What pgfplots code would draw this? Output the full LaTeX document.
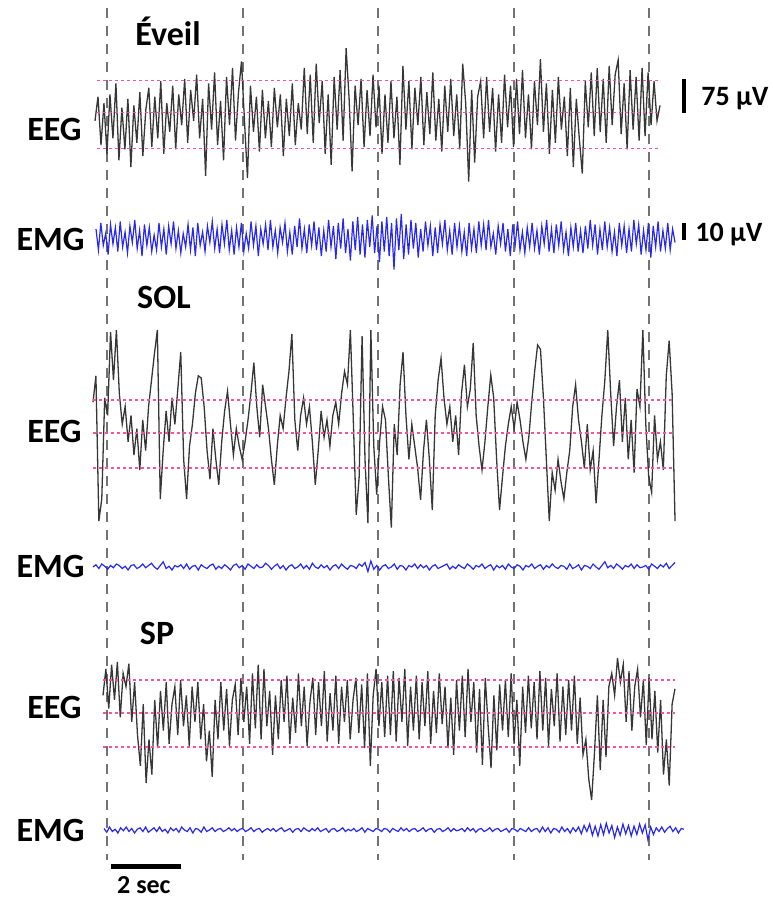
\documentclass[border=0pt]{standalone}
\usepackage{pgfplots}
\pgfplotsset{compat=1.18}
\usepackage{pgfplotstable}
\usepackage{fontspec}
\setmainfont{Carlito}

\definecolor{eegcol}{RGB}{55,55,55}
\definecolor{emgcol}{RGB}{40,40,240}
\definecolor{pinkdot}{RGB}{245,85,150}
\definecolor{dashgray}{RGB}{115,115,115}

% Eveil (awake) -- EEG in microvolts, EMG in microvolts
\pgfplotstableread[row sep=\\]{v\\
-20\\ 35\\ -75\\ 20\\ -95\\ 40\\ -60\\ 65\\ -110\\ 10\\
-85\\ 30\\ -125\\ 15\\ -70\\ 45\\ -100\\ 5\\ 55\\ -80\\
35\\ -60\\ 70\\ -95\\ 20\\ -45\\ 60\\ -85\\ 40\\ -30\\
75\\ -70\\ 50\\ -20\\ 85\\ -60\\ 30\\ -145\\ 65\\ -40\\
90\\ -75\\ 25\\ -110\\ 80\\ -30\\ 100\\ -65\\ 45\\ 115\\
-20\\ -150\\ 60\\ -45\\ 35\\ -90\\ 50\\ -60\\ 25\\ -80\\
55\\ -35\\ 40\\ -100\\ 30\\ -55\\ 65\\ -75\\ 20\\ -40\\
100\\ -50\\ 85\\ -70\\ 110\\ -25\\ 70\\ -95\\ 40\\ -120\\
80\\ -40\\ 95\\ -65\\ 145\\ 30\\ -135\\ 60\\ -30\\ 75\\
-80\\ 50\\ -55\\ 85\\ -35\\ 60\\ -95\\ 40\\ -70\\ 70\\
-60\\ 35\\ -120\\ 105\\ -40\\ 70\\ -85\\ 55\\ -30\\ 80\\
-75\\ 45\\ -50\\ 90\\ -65\\ 30\\ -90\\ 60\\ -45\\ 75\\
-55\\ 40\\ -85\\ 110\\ 20\\ -158\\ 50\\ -115\\ 35\\ 70\\
-60\\ 80\\ -45\\ 55\\ -90\\ 40\\ -70\\ 85\\ -35\\ 60\\
-80\\ 75\\ -50\\ 95\\ -60\\ 40\\ -85\\ 70\\ -30\\ 120\\
-45\\ 65\\ -95\\ 50\\ -70\\ 80\\ -40\\ 35\\ -100\\ 55\\
-125\\ 30\\ -60\\ -140\\ 70\\ -35\\ 90\\ -55\\ 100\\ -45\\
75\\ -70\\ 105\\ -30\\ 85\\ 118\\ -50\\ 65\\ -85\\ 95\\
-40\\ 80\\ -65\\ 100\\ -55\\ 90\\ -30\\ 70\\ -20\\ 15\\
}\eveileeg

\pgfplotstableread[row sep=\\]{v\\
6\\ -8\\ 10\\ -5\\ 3\\ -11\\ 9\\ -4\\ 7\\ -9\\
11\\ -6\\ 4\\ -10\\ 8\\ -3\\ 12\\ -7\\ 5\\ -12\\
9\\ -5\\ 7\\ -9\\ 2\\ -8\\ 10\\ -6\\ 6\\ -11\\
8\\ -4\\ 11\\ -7\\ 5\\ -10\\ 3\\ -6\\ 9\\ -8\\
7\\ -12\\ 10\\ -5\\ 4\\ -9\\ 8\\ -3\\ 11\\ -7\\
6\\ -10\\ 9\\ -4\\ 12\\ -8\\ 5\\ -11\\ 7\\ -6\\
10\\ -9\\ 3\\ -7\\ 11\\ -5\\ 8\\ -12\\ 6\\ -4\\
9\\ -8\\ 12\\ -6\\ 5\\ -10\\ 7\\ -3\\ 10\\ -9\\
4\\ -11\\ 8\\ -6\\ 13\\ -7\\ 6\\ -10\\ 9\\ -5\\
11\\ -8\\ 7\\ -12\\ 5\\ -9\\ 12\\ -6\\ 8\\ -14\\
10\\ -7\\ 13\\ -10\\ 6\\ -15\\ 11\\ -8\\ 14\\ -11\\
9\\ -13\\ 12\\ -6\\ 15\\ -10\\ 8\\ -16\\ 11\\ -9\\
14\\ -12\\ 10\\ -21\\ 13\\ -8\\ 16\\ -14\\ 9\\ -11\\
12\\ -7\\ 10\\ -13\\ 6\\ -9\\ 11\\ -5\\ 8\\ -12\\
7\\ -10\\ 9\\ -4\\ 12\\ -8\\ 5\\ -11\\ 10\\ -6\\
8\\ -9\\ 4\\ -12\\ 10\\ -7\\ 6\\ -10\\ 11\\ -5\\
9\\ -8\\ 12\\ -6\\ 3\\ -11\\ 8\\ -4\\ 10\\ -9\\
6\\ -12\\ 9\\ -5\\ 11\\ -8\\ 4\\ -10\\ 7\\ -6\\
10\\ -7\\ 5\\ -11\\ 8\\ -4\\ 12\\ -9\\ 6\\ -10\\
9\\ -5\\ 11\\ -8\\ 4\\ -12\\ 7\\ -6\\ 10\\ -9\\
5\\ -10\\ 8\\ -7\\ 12\\ -5\\ 9\\ -11\\ 6\\ -8\\
11\\ -6\\ 7\\ -9\\ 4\\ -12\\ 10\\ -5\\ 8\\ -10\\
6\\ -9\\ 12\\ -4\\ 9\\ -11\\ 5\\ -8\\ 10\\ -13\\
8\\ -6\\ 11\\ -9\\ 5\\ -7\\ 10\\ -8\\ 6\\ -3\\
}\eveilemg

% SOL (slow-wave sleep)
\pgfplotstableread[row sep=\\]{v\\
70\\ 130\\ -200\\ -150\\ 80\\ 40\\ 230\\ 120\\ 234\\ 90\\
20\\ 60\\ -20\\ 40\\ -50\\ 10\\ -84\\ 30\\ -40\\ 60\\
120\\ 180\\ 234\\ -150\\ -40\\ 50\\ -20\\ 80\\ 20\\ 100\\
184\\ -60\\ -150\\ -30\\ 20\\ 90\\ 130\\ 125\\ 60\\ -40\\
-105\\ 10\\ -60\\ -118\\ -20\\ 50\\ 95\\ 20\\ -50\\ 10\\
-30\\ -60\\ -20\\ 30\\ 90\\ 160\\ 60\\ -10\\ 110\\ 60\\
10\\ -60\\ -118\\ -30\\ 40\\ 10\\ 80\\ 140\\ 225\\ 30\\
-40\\ 40\\ 80\\ 20\\ 60\\ -20\\ -118\\ -40\\ 50\\ -10\\
30\\ -30\\ 40\\ 70\\ 20\\ 90\\ 140\\ 110\\ 234\\ 30\\
-186\\ -100\\ 220\\ -60\\ -205\\ 234\\ -30\\ -140\\ -20\\ 60\\
30\\ -100\\ -215\\ 20\\ -50\\ 110\\ 184\\ 40\\ -60\\ 20\\
-30\\ -80\\ -152\\ -40\\ 30\\ -60\\ -175\\ 40\\ 120\\ 170\\
80\\ 20\\ 60\\ -20\\ 40\\ -50\\ 90\\ 155\\ 60\\ 100\\
205\\ 40\\ -30\\ -84\\ -20\\ 60\\ 132\\ 80\\ -60\\ -175\\
-100\\ -30\\ 20\\ 60\\ 10\\ 70\\ 30\\ -20\\ -60\\ -10\\
70\\ 140\\ 200\\ 190\\ 80\\ -60\\ -200\\ -90\\ -130\\ -60\\
-110\\ -150\\ -90\\ -40\\ 60\\ 110\\ 30\\ -20\\ -80\\ 20\\
-84\\ -40\\ -160\\ -60\\ 40\\ 120\\ 234\\ 90\\ -30\\ 60\\
120\\ -20\\ 80\\ -60\\ 30\\ -90\\ 100\\ 60\\ 234\\ 20\\
-100\\ -135\\ 40\\ -60\\ -20\\ -84\\ 130\\ 210\\ 90\\ -200\\
}\soleeg

\pgfplotstableread[row sep=\\]{v\\
0\\ 1.5\\ -1\\ 2\\ 0.5\\ -1.5\\ 1\\ -0.5\\ 2\\ 1\\
-1\\ 0.5\\ -2\\ 1\\ 1.5\\ -1\\ 0\\ 2\\ -0.5\\ 1\\
2.5\\ 0\\ -1.5\\ 1\\ 3.5\\ -1\\ 0.5\\ -2\\ 1\\ 0\\
1.5\\ -1\\ 2\\ -1.5\\ 0.5\\ 1\\ -2\\ 1.5\\ 0\\ -1\\
1\\ 2\\ -1.5\\ 0.5\\ -1\\ 1.5\\ 0\\ -2\\ 1\\ 2\\
-0.5\\ 1\\ -1.5\\ 2\\ 0.5\\ -1\\ 1.5\\ -0.5\\ 0\\ 2.5\\
1\\ -1.5\\ 0.5\\ 2\\ -1\\ 1\\ -2\\ 0.5\\ 1.5\\ -1\\
0\\ 2\\ -1\\ 1\\ -1.5\\ 2.5\\ 0\\ -1\\ 1.5\\ -0.5\\
1\\ -2\\ 0.5\\ 1.5\\ -1\\ 2\\ 0\\ -1.5\\ 1\\ 0.5\\
-1\\ 2\\ 0.5\\ 3\\ -3\\ 4\\ -1.5\\ 1\\ -2\\ 0.5\\
1.5\\ -1\\ 0\\ 2\\ -1.5\\ 1\\ 0.5\\ -2\\ 1\\ 0\\
2\\ -1\\ 1.5\\ -0.5\\ 1\\ -2\\ 0.5\\ 1.5\\ -1\\ 0\\
1\\ 2\\ -1.5\\ 0.5\\ -1\\ 1.5\\ 0\\ -1\\ 2\\ 0.5\\
-1.5\\ 1\\ 0\\ 2\\ -1\\ 0.5\\ 1.5\\ -2\\ 1\\ -0.5\\
1\\ -1.5\\ 2\\ 0\\ -1\\ 1.5\\ 0.5\\ -2\\ 1\\ 0\\
2\\ -1\\ 0.5\\ 1.5\\ -1.5\\ 1\\ -0.5\\ 2\\ 0\\ -1\\
1\\ 0.5\\ -1.5\\ 2\\ -1\\ 0\\ 1.5\\ -2\\ 1\\ 0.5\\
-1\\ 2\\ 0\\ -1.5\\ 1\\ 3.5\\ -0.5\\ 1\\ -1\\ 2\\
0.5\\ -1.5\\ 1\\ 0\\ 2\\ -1\\ 1.5\\ -0.5\\ 0\\ 1\\
-1.5\\ 2\\ 0.5\\ -1\\ 1.5\\ 0\\ 2.5\\ -1\\ 1\\ 3\\
}\solemg

% SP (paradoxical sleep)
\pgfplotstableread[row sep=\\]{v\\
40\\ 100\\ 10\\ 110\\ 30\\ 116\\ -10\\ 90\\ 60\\ 112\\
-20\\ 70\\ -50\\ -120\\ 20\\ -159\\ -60\\ -140\\ 30\\ -80\\
50\\ -40\\ 70\\ -70\\ 20\\ 60\\ -50\\ 75\\ -30\\ 40\\
-75\\ 60\\ -20\\ 70\\ -60\\ 20\\ -110\\ -40\\ -145\\ 30\\
-60\\ 70\\ -40\\ 55\\ -75\\ 30\\ 65\\ -50\\ 80\\ -20\\
60\\ -70\\ 90\\ -35\\ 110\\ -60\\ 100\\ -30\\ 50\\ -95\\
40\\ -60\\ 75\\ -20\\ 85\\ -70\\ 35\\ -45\\ 90\\ -30\\
60\\ -75\\ 25\\ 80\\ -50\\ 70\\ -30\\ 95\\ -65\\ 45\\
-40\\ 85\\ -70\\ 60\\ -20\\ 75\\ -60\\ 30\\ 80\\ -45\\
65\\ -80\\ 90\\ -120\\ 40\\ 100\\ -30\\ 70\\ -55\\ 85\\
-50\\ 95\\ -65\\ 80\\ -20\\ 100\\ -75\\ 60\\ -40\\ 85\\
-60\\ 70\\ -30\\ 95\\ -70\\ 50\\ -45\\ 90\\ -25\\ 60\\
-80\\ 35\\ -95\\ 75\\ -40\\ 85\\ -55\\ 100\\ -20\\ 70\\
-90\\ 55\\ -118\\ 80\\ -30\\ -125\\ 40\\ -85\\ 65\\ -40\\
75\\ -55\\ 90\\ -70\\ 30\\ -120\\ 60\\ -45\\ 85\\ -35\\
70\\ -60\\ 95\\ -40\\ 80\\ -75\\ 55\\ -30\\ 90\\ -65\\
60\\ -50\\ 75\\ -40\\ 85\\ -70\\ 35\\ -95\\ -60\\ -150\\
-198\\ -90\\ 40\\ -130\\ 30\\ -100\\ 60\\ 90\\ 40\\ 125\\
70\\ 110\\ -20\\ 95\\ -40\\ 60\\ 100\\ -10\\ 75\\ -73\\
80\\ -60\\ 50\\ -90\\ 30\\ -140\\ -60\\ -165\\ 20\\ 55\\
}\speeg

\pgfplotstableread[row sep=\\]{v\\
1\\ -1.5\\ 2\\ -1\\ 0.5\\ -2\\ 1.5\\ -0.5\\ 2\\ -1\\
1\\ -2\\ 0.5\\ 1.5\\ -1\\ 2\\ -1.5\\ 0\\ 1.5\\ -1\\
2\\ -1\\ 0.5\\ -2\\ 1.5\\ -0.5\\ 1\\ -1.5\\ 2\\ 0\\
-1\\ 1.5\\ -2\\ 1\\ 0.5\\ -1.5\\ 2\\ -1\\ 0\\ 1.5\\
-1\\ 0.5\\ 1\\ -1\\ 0\\ 1.5\\ -0.5\\ 1\\ -1\\ 0.5\\
1\\ -1\\ 0\\ 1.5\\ -1\\ 0.5\\ 1\\ -1.5\\ 0\\ 1\\
-0.5\\ 1\\ -1\\ 0.5\\ 1.5\\ -1\\ 0\\ 1\\ -1.5\\ 0.5\\
1\\ -1\\ 1.5\\ 0\\ -1\\ 1\\ -0.5\\ 1.5\\ -1\\ 0\\
1\\ -1.5\\ 0.5\\ 1\\ -1\\ 0\\ 1.5\\ -1\\ 0.5\\ -0.5\\
1\\ -1\\ 0\\ 1.5\\ -1.5\\ 1\\ 0\\ -1\\ 1\\ 0.5\\
-1\\ 1\\ 0.5\\ -1.5\\ 1\\ 0\\ -1\\ 1.5\\ -0.5\\ 1\\
-1\\ 0.5\\ 1\\ -1\\ 0\\ 1.5\\ -1\\ 0.5\\ 1\\ -1.5\\
0.5\\ 1\\ -1\\ 0\\ 1.5\\ -1\\ 1\\ -0.5\\ 0\\ 1\\
-1\\ 1.5\\ -0.5\\ 1\\ -1.5\\ 0.5\\ 1\\ -1\\ 0\\ 1.5\\
-1\\ 0.5\\ 1\\ -1\\ 0\\ 1\\ -1.5\\ 1\\ 0.5\\ -1\\
1\\ 0\\ -1\\ 1.5\\ -1\\ 0.5\\ 1\\ -1.5\\ 2\\ -1\\
1.5\\ -2\\ 1\\ 0.5\\ -1.5\\ 2\\ -1\\ 1\\ -2\\ 1.5\\
-1\\ 2\\ -2.5\\ 3\\ -1\\ 4\\ -3.5\\ 2.5\\ -4\\ 3.5\\
-3\\ 4.5\\ -2\\ 3\\ -5\\ 2\\ -3.5\\ 4\\ -2.5\\ 3\\
-4\\ 2.5\\ -3\\ 4\\ -2\\ 3.5\\ -6.5\\ 2\\ -3\\ 1.5\\
-1\\ 2\\ -1.5\\ 1\\ 2.5\\ -1\\ 1.5\\ -2\\ 1\\ 0.5\\
}\spemg

\begin{document}
\begin{tikzpicture}
\begin{axis}[
    scale only axis,
    width=386pt, height=449pt,
    xmin=-3.1587, xmax=19.631,
    ymin=0, ymax=898, y dir=reverse,
    hide axis, clip=false,
]
\path (rel axis cs:0,0) rectangle (rel axis cs:1,1);

% 4-second markers
\foreach \t in {0,4,8,12,16} {
  \edef\tmp{\noexpand\addplot[dashgray, line width=1pt, dash pattern=on 5pt off 4pt]
    coordinates {(\t,8) (\t,860)};}
  \tmp
}

% Eveil
\addplot[eegcol, line width=0.65pt] table[x index=0, y index=0, x expr={-0.3542+\coordindex*0.08825}, y expr={112-0.44*\thisrow{v}}] {\eveileeg};
\addplot[emgcol, line width=0.6pt] table[x index=0, y index=0, x expr={-0.3247+\coordindex*0.07152}, y expr={238-1.5*\thisrow{v}}] {\eveilemg};
% SOL
\addplot[eegcol, line width=0.65pt] table[x index=0, y index=0, x expr={-0.4133+\coordindex*0.08634}, y expr={433-0.44*\thisrow{v}}] {\soleeg};
\addplot[emgcol, line width=0.6pt] table[x index=0, y index=0, x expr={-0.4133+\coordindex*0.08634}, y expr={567-1.5*\thisrow{v}}] {\solemg};
% SP
\addplot[eegcol, line width=0.65pt] table[x index=0, y index=0, x expr={-0.1181+\coordindex*0.08485}, y expr={713-0.44*\thisrow{v}}] {\speeg};
\addplot[emgcol, line width=0.6pt] table[x index=0, y index=0, x expr={-0.0886+\coordindex*0.08192}, y expr={830-1.5*\thisrow{v}}] {\spemg};

% +/- 75 uV reference lines
\foreach \y in {80.5,112.5,148.5} {
  \edef\tmp{\noexpand\addplot[pinkdot, line width=0.6pt, dash pattern=on 1.5pt off 1.5pt]
    coordinates {(-0.295,\y) (16.295,\y)};}
  \tmp
}
\foreach \y in {400,433,468} {
  \edef\tmp{\noexpand\addplot[pinkdot, line width=0.6pt, dash pattern=on 1.5pt off 1.5pt]
    coordinates {(-0.413,\y) (16.71,\y)};}
  \tmp
}
\foreach \y in {680,713,747} {
  \edef\tmp{\noexpand\addplot[pinkdot, line width=0.6pt, dash pattern=on 1.5pt off 1.5pt]
    coordinates {(-0.118,\y) (16.77,\y)};}
  \tmp
}

% scale bars
\addplot[black, line width=1.8pt] coordinates {(17.033,79) (17.033,113)};
\addplot[black, line width=2.4pt] coordinates {(17.033,223) (17.033,240)};
\addplot[black, line width=2.5pt] coordinates {(0.118,866) (2.185,866)};

% labels
\node[font=\bfseries\fontsize{17}{20}\selectfont] at (axis cs:1.80,31) {Éveil};
\node[font=\bfseries\fontsize{17}{20}\selectfont] at (axis cs:1.68,297) {SOL};
\node[font=\bfseries\fontsize{17}{20}\selectfont] at (axis cs:1.476,633) {SP};
\node[font=\bfseries\fontsize{17}{20}\selectfont, anchor=east, inner sep=0pt] at (axis cs:-0.738,129) {EEG};
\node[font=\bfseries\fontsize{17}{20}\selectfont, anchor=east, inner sep=0pt] at (axis cs:-0.649,239) {EMG};
\node[font=\bfseries\fontsize{17}{20}\selectfont, anchor=east, inner sep=0pt] at (axis cs:-0.738,431) {EEG};
\node[font=\bfseries\fontsize{17}{20}\selectfont, anchor=east, inner sep=0pt] at (axis cs:-0.649,566) {EMG};
\node[font=\bfseries\fontsize{17}{20}\selectfont, anchor=east, inner sep=0pt] at (axis cs:-0.738,707) {EEG};
\node[font=\bfseries\fontsize{17}{20}\selectfont, anchor=east, inner sep=0pt] at (axis cs:-0.649,830) {EMG};
\node[font=\bfseries\fontsize{14}{16}\selectfont, anchor=base west, inner sep=0pt] at (axis cs:17.535,106) {75 µV};
\node[font=\bfseries\fontsize{14}{16}\selectfont, anchor=base west, inner sep=0pt] at (axis cs:17.358,242) {10 µV};
\node[font=\bfseries\fontsize{13}{15}\selectfont, anchor=base, inner sep=0pt] at (axis cs:1.09,893) {2 sec};
\end{axis}
\end{tikzpicture}
\end{document}
